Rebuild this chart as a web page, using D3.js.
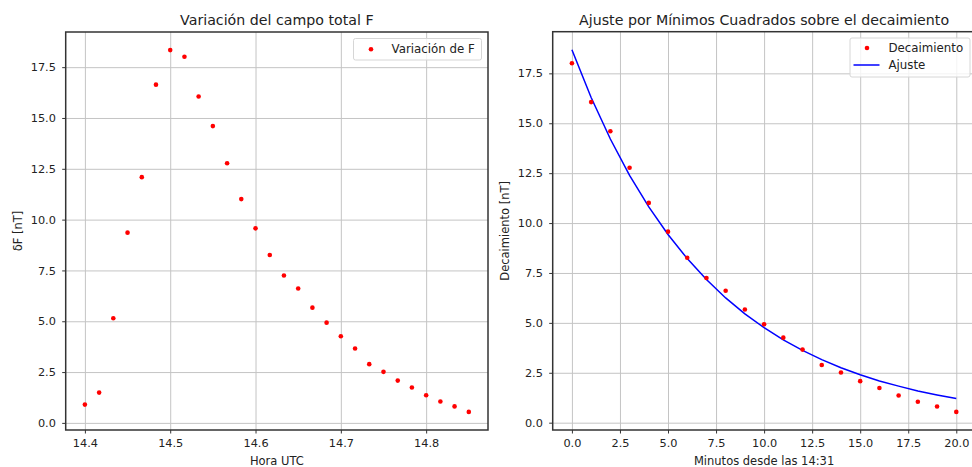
<!DOCTYPE html>
<html>
<head>
<meta charset="utf-8">
<script src="https://cdn.jsdelivr.net/npm/d3@7"></script>
<style>
  body { margin: 0; background: #fff; }
  svg { display: block; font-family: "DejaVu Sans", sans-serif; }
  .tick text { fill: #222; font-size: 11.3px; }
</style>
</head>
<body>
<div id="chart"></div>
<script>
// Hora UTC (decimal hours), one reading per minute
const horas = [14.4, 14.4167, 14.4333, 14.45, 14.4667, 14.4833, 14.5, 14.5167, 14.5333, 14.55,
    14.5667, 14.5833, 14.6, 14.6167, 14.6333, 14.65, 14.6667, 14.6833, 14.7, 14.7167,
    14.7333, 14.75, 14.7667, 14.7833, 14.8, 14.8167, 14.8333, 14.85];
const deltaF = [0.90, 1.49, 5.15, 9.36, 12.09, 16.64, 18.34, 18.01, 16.06, 14.60,
    12.77, 11.01, 9.57, 8.26, 7.25, 6.61, 5.67, 4.93, 4.26, 3.66,
    2.89, 2.51, 2.08, 1.74, 1.36, 1.05, 0.81, 0.54];

// decay after 14:31
const minutos = [0, 1, 2, 3, 4, 5, 6, 7, 8, 9, 10, 11, 12, 13, 14, 15, 16, 17, 18, 19, 20];
const decaimiento = [18.01, 16.06, 14.60, 12.77, 11.01, 9.57, 8.26, 7.25, 6.61, 5.67,
    4.93, 4.26, 3.66, 2.89, 2.51, 2.08, 1.74, 1.36, 1.05, 0.81, 0.54];
const ajuste = [18.68, 16.29, 14.21, 12.39, 10.81, 9.43, 8.22, 7.17, 6.25, 5.45,
    4.76, 4.15, 3.62, 3.16, 2.75, 2.40, 2.09, 1.83, 1.59, 1.39, 1.21];

const yTicks = [0, 2.5, 5, 7.5, 10, 12.5, 15, 17.5];
const xTicksLeft = [14.4, 14.5, 14.6, 14.7, 14.8];
const xTicksRight = [0, 2.5, 5, 7.5, 10, 12.5, 15, 17.5, 20];

const W = 972, H = 467;
const svg = d3.select("#chart").append("svg")
    .attr("width", W)
    .attr("height", H);

function padded(vals) {
    let lo = d3.min(vals), hi = d3.max(vals);
    let m = (hi - lo) * 0.05;
    return [lo - m, hi + m];
}

function panel(box, xDom, yDom, xTicks, opts) {
    let x = d3.scaleLinear().domain(xDom).range([box.left, box.right]);
    let y = d3.scaleLinear().domain(yDom).range([box.bottom, box.top]);
    let g = svg.append("g");

    // grid
    g.append("g")
        .attr("transform", "translate(0," + box.bottom + ")")
        .call(d3.axisBottom(x).tickValues(xTicks).tickSize(-(box.bottom - box.top)).tickFormat(""))
        .call(a => a.select(".domain").remove())
        .call(a => a.selectAll("line").attr("stroke", "#c4c4c4").attr("stroke-width", 1));
    g.append("g")
        .attr("transform", "translate(" + box.left + ",0)")
        .call(d3.axisLeft(y).tickValues(yTicks).tickSize(-(box.right - box.left)).tickFormat(""))
        .call(a => a.select(".domain").remove())
        .call(a => a.selectAll("line").attr("stroke", "#c4c4c4").attr("stroke-width", 1));

    // axes with tick labels
    g.append("g")
        .attr("transform", "translate(0," + box.bottom + ")")
        .call(d3.axisBottom(x).tickValues(xTicks).tickSize(3.5).tickPadding(5).tickFormat(d3.format(".1f")))
        .call(a => a.select(".domain").remove())
        .call(a => a.selectAll("line").attr("stroke", "#333"))
        .call(a => a.selectAll("text").attr("font-family", "DejaVu Sans"));
    g.append("g")
        .attr("transform", "translate(" + box.left + ",0)")
        .call(d3.axisLeft(y).tickValues(yTicks).tickSize(3.5).tickPadding(6.3).tickFormat(d3.format(".1f")))
        .call(a => a.select(".domain").remove())
        .call(a => a.selectAll("line").attr("stroke", "#333"))
        .call(a => a.selectAll("text").attr("font-family", "DejaVu Sans"));

    // frame
    g.append("rect")
        .attr("x", box.left)
        .attr("y", box.top)
        .attr("width", box.right - box.left)
        .attr("height", box.bottom - box.top)
        .attr("fill", "none")
        .attr("stroke", "#333")
        .attr("stroke-width", 1.5);

    // titles
    let cx = (box.left + box.right) / 2;
    g.append("text")
        .attr("x", cx)
        .attr("y", 25)
        .attr("text-anchor", "middle")
        .attr("font-size", "14.2px")
        .attr("fill", "#222")
        .text(opts.title);
    g.append("text")
        .attr("x", cx)
        .attr("y", 464.5)
        .attr("text-anchor", "middle")
        .attr("font-size", "11.5px")
        .attr("fill", "#222")
        .text(opts.xlabel);
    g.append("text")
        .attr("transform", "translate(" + opts.ylabelX + "," + (box.top + box.bottom) / 2 + ") rotate(-90)")
        .attr("text-anchor", "middle")
        .attr("font-size", "11.5px")
        .attr("fill", "#222")
        .text(opts.ylabel);

    return {x: x, y: y, g: g};
}

// left panel
let left = panel({left: 65.7, right: 488, top: 32, bottom: 430},
    padded(horas), padded(deltaF), xTicksLeft,
    {title: "Variación del campo total F", xlabel: "Hora UTC", ylabel: "δF [nT]", ylabelX: 22});

left.g.append("g")
    .selectAll("circle")
    .data(horas)
    .enter().append("circle")
    .attr("cx", function(d) { return left.x(d); })
    .attr("cy", function(d, i) { return left.y(deltaF[i]); })
    .attr("r", 2.3)
    .attr("fill", "#ff0000");

// legend left
let lg = left.g.append("g").attr("transform", "translate(353.5,38.5)");
lg.append("rect")
    .attr("width", 128)
    .attr("height", 21.5)
    .attr("rx", 2)
    .attr("fill", "#fff")
    .attr("fill-opacity", 0.8)
    .attr("stroke", "#d6d6d6");
lg.append("circle").attr("cx", 17.5).attr("cy", 10.8).attr("r", 2.3).attr("fill", "#ff0000");
lg.append("text")
    .attr("x", 38)
    .attr("y", 10.8)
    .attr("dy", "0.35em")
    .attr("font-size", "11.8px")
    .attr("fill", "#222")
    .text("Variación de F");

// right panel
let yRight = padded(decaimiento.concat(ajuste));
let right = panel({left: 552.7, right: 975.5, top: 31.7, bottom: 430},
    padded(minutos), yRight, xTicksRight,
    {title: "Ajuste por Mínimos Cuadrados sobre el decaimiento", xlabel: "Minutos desde las 14:31",
     ylabel: "Decaimiento [nT]", ylabelX: 509});

right.g.append("path")
    .datum(minutos)
    .attr("fill", "none")
    .attr("stroke", "#0000ff")
    .attr("stroke-width", 1.5)
    .attr("d", d3.line()
        .x(function(d) { return right.x(d); })
        .y(function(d, i) { return right.y(ajuste[i]); }));

right.g.append("g")
    .selectAll("circle")
    .data(minutos)
    .enter().append("circle")
    .attr("cx", function(d) { return right.x(d); })
    .attr("cy", function(d, i) { return right.y(decaimiento[i]); })
    .attr("r", 2.3)
    .attr("fill", "#ff0000");

// legend right
let rg = right.g.append("g").attr("transform", "translate(850,38)");
rg.append("rect")
    .attr("width", 120)
    .attr("height", 39)
    .attr("rx", 2)
    .attr("fill", "#fff")
    .attr("fill-opacity", 0.8)
    .attr("stroke", "#d6d6d6");
rg.append("circle").attr("cx", 17).attr("cy", 10).attr("r", 2.3).attr("fill", "#ff0000");
rg.append("line")
    .attr("x1", 3.5).attr("x2", 29.5)
    .attr("y1", 27).attr("y2", 27)
    .attr("stroke", "#0000ff")
    .attr("stroke-width", 1.5);
rg.append("text")
    .attr("x", 38.5)
    .attr("y", 10)
    .attr("dy", "0.35em")
    .attr("font-size", "11.8px")
    .attr("fill", "#222")
    .text("Decaimiento");
rg.append("text")
    .attr("x", 38.5)
    .attr("y", 27)
    .attr("dy", "0.35em")
    .attr("font-size", "11.8px")
    .attr("fill", "#222")
    .text("Ajuste");
</script>
</body>
</html>
